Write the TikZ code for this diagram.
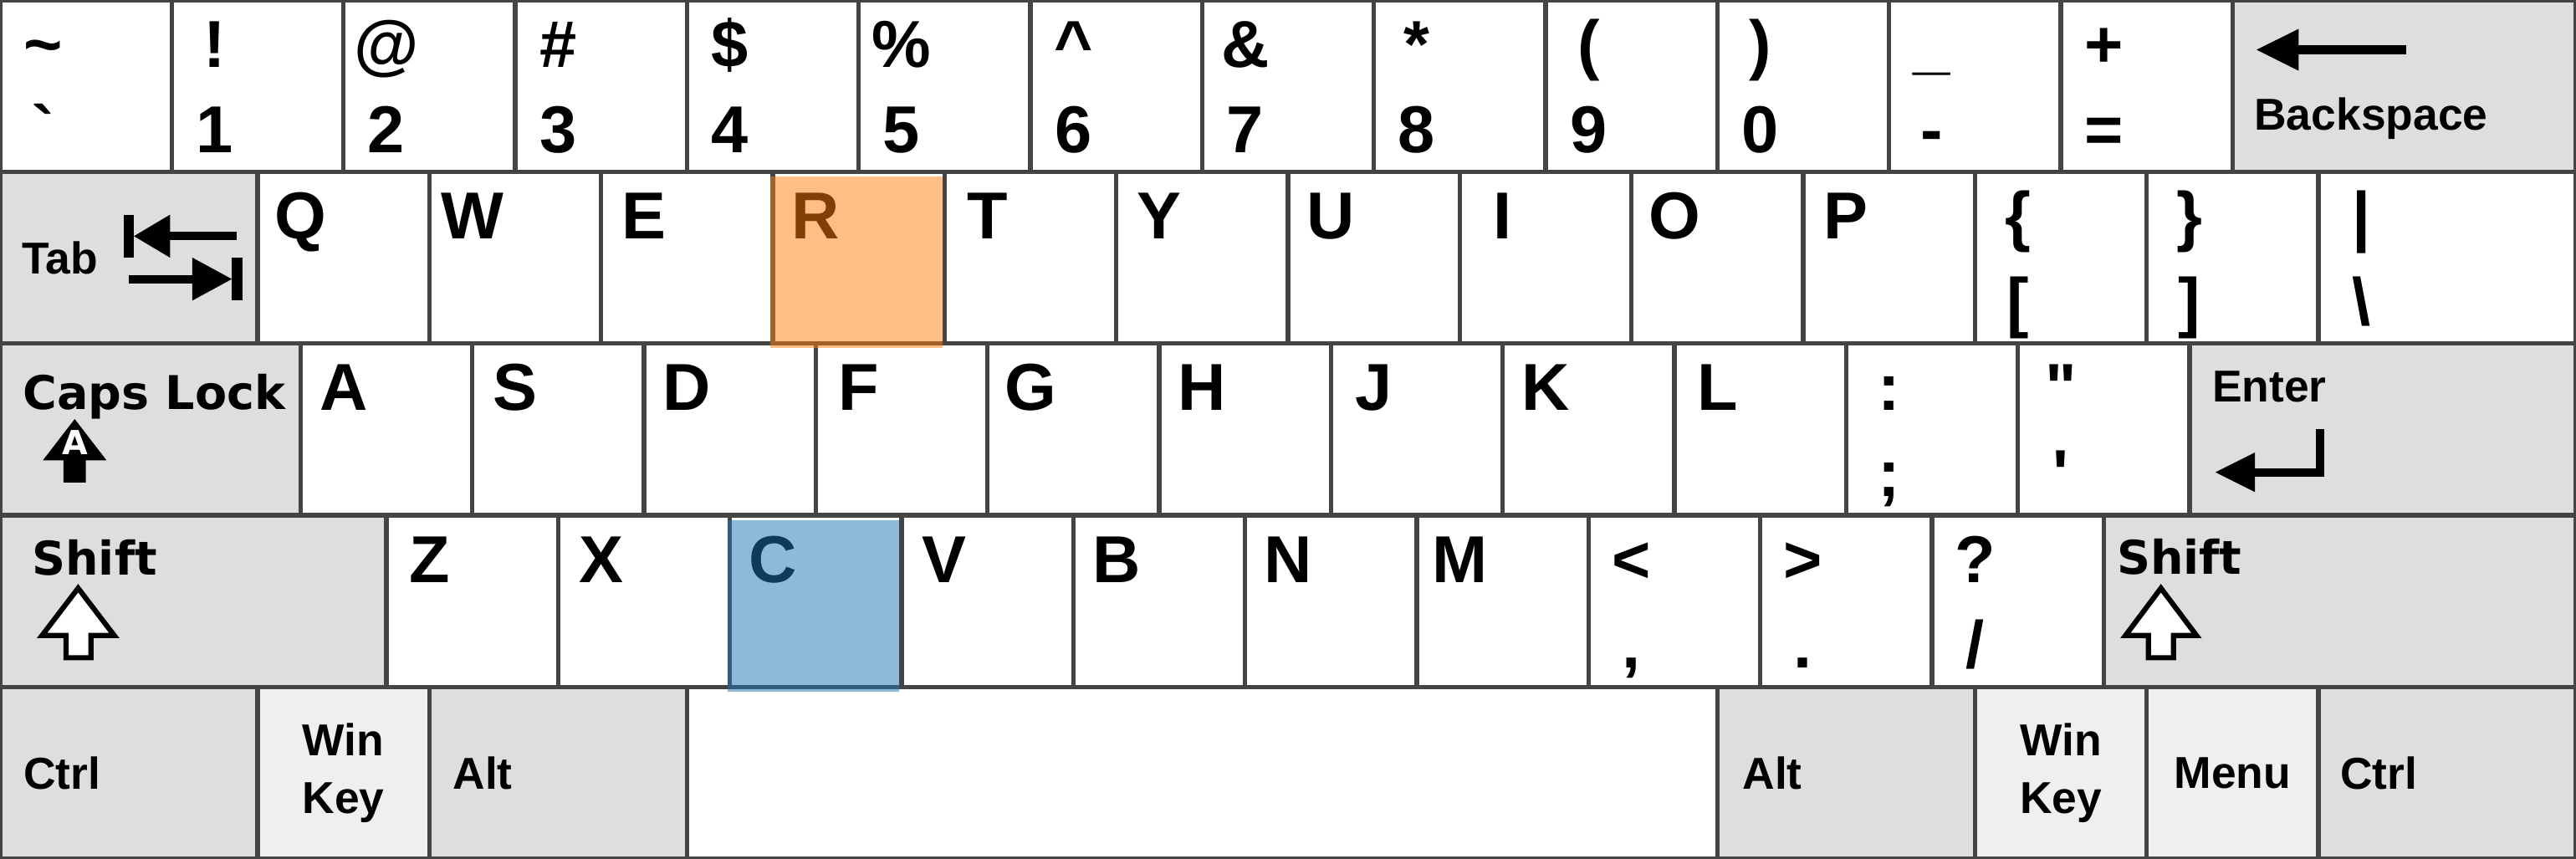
\documentclass[tikz,border=0pt]{standalone}
\usepackage{fontspec}
\usepackage{tikz}
\usetikzlibrary{positioning,calc}
\newfontfamily\arialfont{Liberation Sans}
\newfontfamily\dejafont{DejaVu Sans}
\definecolor{keyline}{RGB}{68,68,68}
\definecolor{modgray}{RGB}{222,222,222}
\definecolor{wingray}{RGB}{239,239,239}
\definecolor{hlorange}{RGB}{255,127,14}
\definecolor{hlblue}{RGB}{31,119,180}
\tikzset{
  key/.style    = {draw=keyline, line width=0.75pt, fill=white, anchor=north west, inner sep=0pt, outer sep=0pt, minimum height=1cm, minimum width=1cm},
  modkey/.style = {key, fill=modgray},
  winkey/.style = {key, fill=wingray},
  glyph/.style  = {anchor=base, inner sep=0pt, font=\arialfont\bfseries\fontsize{11}{13}\selectfont},
  modtxt/.style = {inner sep=0pt, font=\arialfont\bfseries\fontsize{7.4}{9.6}\selectfont},
  captxt/.style = {inner sep=0pt, anchor=base west, font=\dejafont\bfseries\fontsize{7.7}{9}\selectfont},
  icon/.style   = {line width=0.05cm, draw=black},
  hollow/.style = {line width=0.03cm, draw=black, fill=white},
  hilite/.style = {anchor=north west, inner sep=0pt, minimum width=1cm, minimum height=1cm, fill opacity=0.5},
}

\begin{document}
\begin{tikzpicture}
  \useasboundingbox (0,0) rectangle (15,-5);
  % number row
  \foreach \up/\dn [count=\i from 0] in {{\char"007E}/{\char"0060},!/1,@/2,\#/3,\$/4,\%/5,{\char"005E}/6,\&/7,*/8,{(}/9,{)}/0,\_/-,+/=} {
    \node[key] (num\i) at (\i,0) {};
    \node[glyph] (num\i up) at ($(num\i.north west)+(0.25,-0.39)$) {\up};
    \node[glyph] (num\i dn) at ($(num\i.north west)+(0.25,-0.89)$) {\dn};
  }
  \node[modkey, minimum width=2cm] (kBack) at (13,0) {};
  \node[modtxt, anchor=base west] (tBack) at ($(kBack.north west)+(0.12,-0.755)$) {Backspace};
  \begin{scope}[shift={(kBack.north west)}]
    \fill (0.14,-0.29) -- (0.385,-0.168) -- (0.385,-0.412) -- cycle;
    \draw[icon, line width=0.058cm] (0.38,-0.29) -- (1.01,-0.29);
  \end{scope}

  % top letter row
  \node[modkey, minimum width=1.5cm] (kTab) at (0,-1) {};
  \node[modtxt, anchor=west] (tTab) at ($(kTab.west)+(0.12,0)$) {Tab};
  \begin{scope}[shift={(kTab.north west)}]
    \fill (0.78,-0.375) -- (0.99,-0.25) -- (0.99,-0.5) -- cycle;
    \draw[icon] (0.98,-0.375) -- (1.38,-0.375);
    \fill (0.72,-0.25) rectangle (0.78,-0.5);
    \fill (1.35,-0.625) -- (1.12,-0.5) -- (1.12,-0.75) -- cycle;
    \draw[icon] (0.75,-0.625) -- (1.13,-0.625);
    \fill (1.35,-0.5) rectangle (1.41,-0.75);
  \end{scope}
  \foreach \ch [count=\i from 0] in {Q,W,E,R,T,Y,U,I,O,P} {
    \node[key] (k\ch) at (1.5+\i,-1) {};
    \node[glyph] (l\ch) at ($(k\ch.north west)+(0.25,-0.39)$) {\ch};
  }

  % home row
  \node[modkey, minimum width=1.75cm] (kCaps) at (0,-2) {};
  \node[captxt] (tCaps) at ($(kCaps.north west)+(0.127,-0.385)$) {Caps Lock};
  \begin{scope}[shift={(kCaps.north west)}]
    \fill (0.435,-0.44) -- (0.62,-0.68) -- (0.50,-0.68) -- (0.50,-0.81) -- (0.37,-0.81) -- (0.37,-0.68) -- (0.25,-0.68) -- cycle;
    \node[text=white, inner sep=0pt, font=\dejafont\bfseries\fontsize{5.5}{6}\selectfont] (tCapsA) at (0.437,-0.575) {A};
  \end{scope}
  \foreach \ch [count=\i from 0] in {A,S,D,F,G,H,J,K,L} {
    \node[key] (k\ch) at (1.75+\i,-2) {};
    \node[glyph] (l\ch) at ($(k\ch.north west)+(0.25,-0.39)$) {\ch};
  }
  \node[modkey, minimum width=2.25cm] (kEnter) at (12.75,-2) {};
  \node[modtxt, anchor=base west] (tEnter) at ($(kEnter.north west)+(0.125,-0.34)$) {Enter};
  \begin{scope}[shift={(kEnter.north west)}]
    \draw[icon] (0.76,-0.5) -- (0.76,-0.75) -- (0.37,-0.75);
    \fill (0.15,-0.75) -- (0.38,-0.635) -- (0.38,-0.865) -- cycle;
  \end{scope}

  % bottom letter row
  \node[modkey, minimum width=2.25cm] (kShiftL) at (0,-3) {};
  \node[captxt] (tShiftL) at ($(kShiftL.north west)+(0.18,-0.35)$) {Shift};
  \begin{scope}[shift={(kShiftL.north west)}]
    \draw[hollow] (0.455,-0.425) -- (0.665,-0.70) -- (0.53,-0.70) -- (0.53,-0.83) -- (0.385,-0.83) -- (0.385,-0.70) -- (0.245,-0.70) -- cycle;
  \end{scope}
  \foreach \ch [count=\i from 0] in {Z,X,C,V,B,N,M} {
    \node[key] (k\ch) at (2.25+\i,-3) {};
    \node[glyph] (l\ch) at ($(k\ch.north west)+(0.25,-0.39)$) {\ch};
  }
  \node[modkey, minimum width=2.75cm] (kShiftR) at (12.25,-3) {};
  \node[captxt] (tShiftR) at ($(kShiftR.north west)+(0.07,-0.345)$) {Shift};
  \begin{scope}[shift={(kShiftR.north west)}]
    \draw[hollow] (0.333,-0.425) -- (0.54,-0.70) -- (0.406,-0.70) -- (0.406,-0.83) -- (0.26,-0.83) -- (0.26,-0.70) -- (0.127,-0.70) -- cycle;
  \end{scope}

  % two-symbol keys
  \foreach \nm/\xx/\yy/\ww/\up/\dn in {kLbr/11.5/-1/1/{\{}/{[}, kRbr/12.5/-1/1/{\}}/{]}, kBsl/13.5/-1/1.5/{\textbar}/{\textbackslash},
      kSemi/10.75/-2/1/{:}/{;}, kQuote/11.75/-2/1/{\textquotedbl}/{\textquotesingle},
      kComma/9.25/-3/1/{\textless}/{,}, kDot/10.25/-3/1/{\textgreater}/{.}, kSlash/11.25/-3/1/{?}/{/}} {
    \node[key, minimum width=\ww cm] (\nm) at (\xx,\yy) {};
    \node[glyph] (\nm up) at ($(\nm.north west)+(0.25,-0.39)$) {\up};
    \node[glyph] (\nm dn) at ($(\nm.north west)+(0.25,-0.89)$) {\dn};
  }

  % space row
  \node[modkey, minimum width=1.5cm] (kCtrlL) at (0,-4) {};
  \node[modtxt, anchor=west] (tCtrlL) at ($(kCtrlL.west)+(0.13,0)$) {Ctrl};
  \node[winkey] (kWinL) at (1.5,-4) {};
  \node[modtxt, align=center] (tWinL) at (kWinL.center) {Win\\Key};
  \node[modkey, minimum width=1.5cm] (kAltL) at (2.5,-4) {};
  \node[modtxt, anchor=west] (tAltL) at ($(kAltL.west)+(0.13,0)$) {Alt};
  \node[key, minimum width=6cm] (kSpace) at (4,-4) {};
  \node[modkey, minimum width=1.5cm] (kAltR) at (10,-4) {};
  \node[modtxt, anchor=west] (tAltR) at ($(kAltR.west)+(0.14,0)$) {Alt};
  \node[winkey] (kWinR) at (11.5,-4) {};
  \node[modtxt, align=center] (tWinR) at (kWinR.center) {Win\\Key};
  \node[winkey] (kMenu) at (12.5,-4) {};
  \node[modtxt] (tMenu) at (kMenu.center) {Menu};
  \node[modkey, minimum width=1.5cm] (kCtrlR) at (13.5,-4) {};
  \node[modtxt, anchor=west] (tCtrlR) at ($(kCtrlR.west)+(0.12,0)$) {Ctrl};

  % highlighted keys
  \node[hilite, fill=hlorange] (hR) at ($(kR.north west)+(-0.02,-0.02)$) {};
  \node[hilite, fill=hlblue] (hC) at ($(kC.north west)+(-0.02,-0.02)$) {};
\end{tikzpicture}
\end{document}
